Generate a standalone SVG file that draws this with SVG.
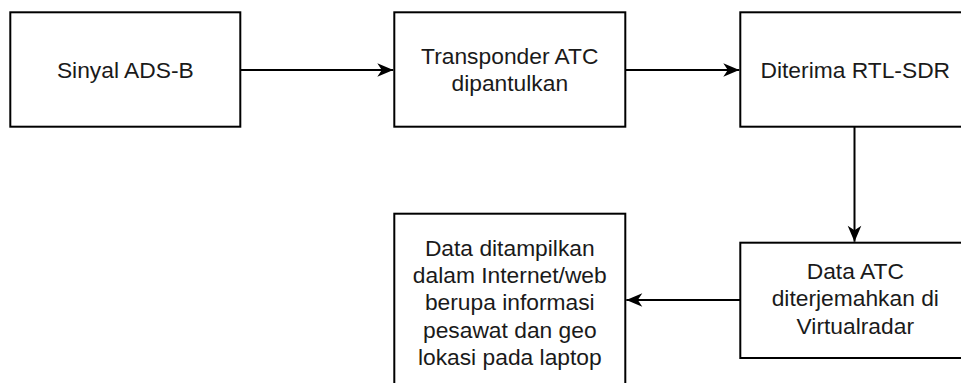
<svg xmlns="http://www.w3.org/2000/svg" width="961" height="383" viewBox="0 0 961 383">
  <style>
    .box { fill: #ffffff; stroke: #000000; stroke-width: 2; }
    .lbl { font-family: "Liberation Sans", Arial, Helvetica, sans-serif; font-size: 22.8px; fill: #1a1a1a; text-anchor: middle; }
    .edge { fill: none; stroke: #000000; stroke-width: 2; }
  </style>
  <defs>
    <marker id="arrow" markerUnits="userSpaceOnUse" markerWidth="20" markerHeight="16" viewBox="-17 -8 18 16" refX="0" refY="0" orient="auto">
      <path d="M0,0 L-16,-6.8 L-11.5,0 L-16,6.8 Z" fill="#000000"/>
    </marker>
  </defs>
  <rect width="961" height="383" fill="#ffffff"/>

  <g id="connectors">
    <line class="edge" x1="240.3" y1="70" x2="393.3" y2="70" marker-end="url(#arrow)"/>
    <line class="edge" x1="625.3" y1="70" x2="739.3" y2="70" marker-end="url(#arrow)"/>
    <line class="edge" x1="854.5" y1="126.7" x2="854.5" y2="241.7" marker-end="url(#arrow)"/>
    <line class="edge" x1="740.3" y1="300" x2="626.3" y2="300" marker-end="url(#arrow)"/>
  </g>

  <g id="node-sinyal">
    <rect class="box" x="10.3" y="12.3" width="230" height="114.4"/>
    <text class="lbl" x="125.3" y="77.5">Sinyal ADS-B</text>
  </g>

  <g id="node-transponder">
    <rect class="box" x="394.3" y="12.3" width="231" height="114.4"/>
    <text class="lbl" x="509.8" y="63.5">Transponder ATC</text>
    <text class="lbl" x="509.8" y="90.9">dipantulkan</text>
  </g>

  <g id="node-rtlsdr">
    <rect class="box" x="740.3" y="12.3" width="230" height="114.4"/>
    <text class="lbl" x="855.3" y="77.5">Diterima RTL-SDR</text>
  </g>

  <g id="node-virtualradar">
    <rect class="box" x="740.3" y="242.7" width="230" height="115.3"/>
    <text class="lbl" x="855.3" y="279">Data ATC</text>
    <text class="lbl" x="855.3" y="306.4">diterjemahkan di</text>
    <text class="lbl" x="855.3" y="333.8">Virtualradar</text>
  </g>

  <g id="node-tampilan">
    <rect class="box" x="394.3" y="213.7" width="231" height="172.6"/>
    <text class="lbl" x="509.8" y="255.5">Data ditampilkan</text>
    <text class="lbl" x="509.8" y="282.9">dalam Internet/web</text>
    <text class="lbl" x="509.8" y="310.3">berupa informasi</text>
    <text class="lbl" x="509.8" y="337.7">pesawat dan geo</text>
    <text class="lbl" x="509.8" y="365.1">lokasi pada laptop</text>
  </g>
</svg>
